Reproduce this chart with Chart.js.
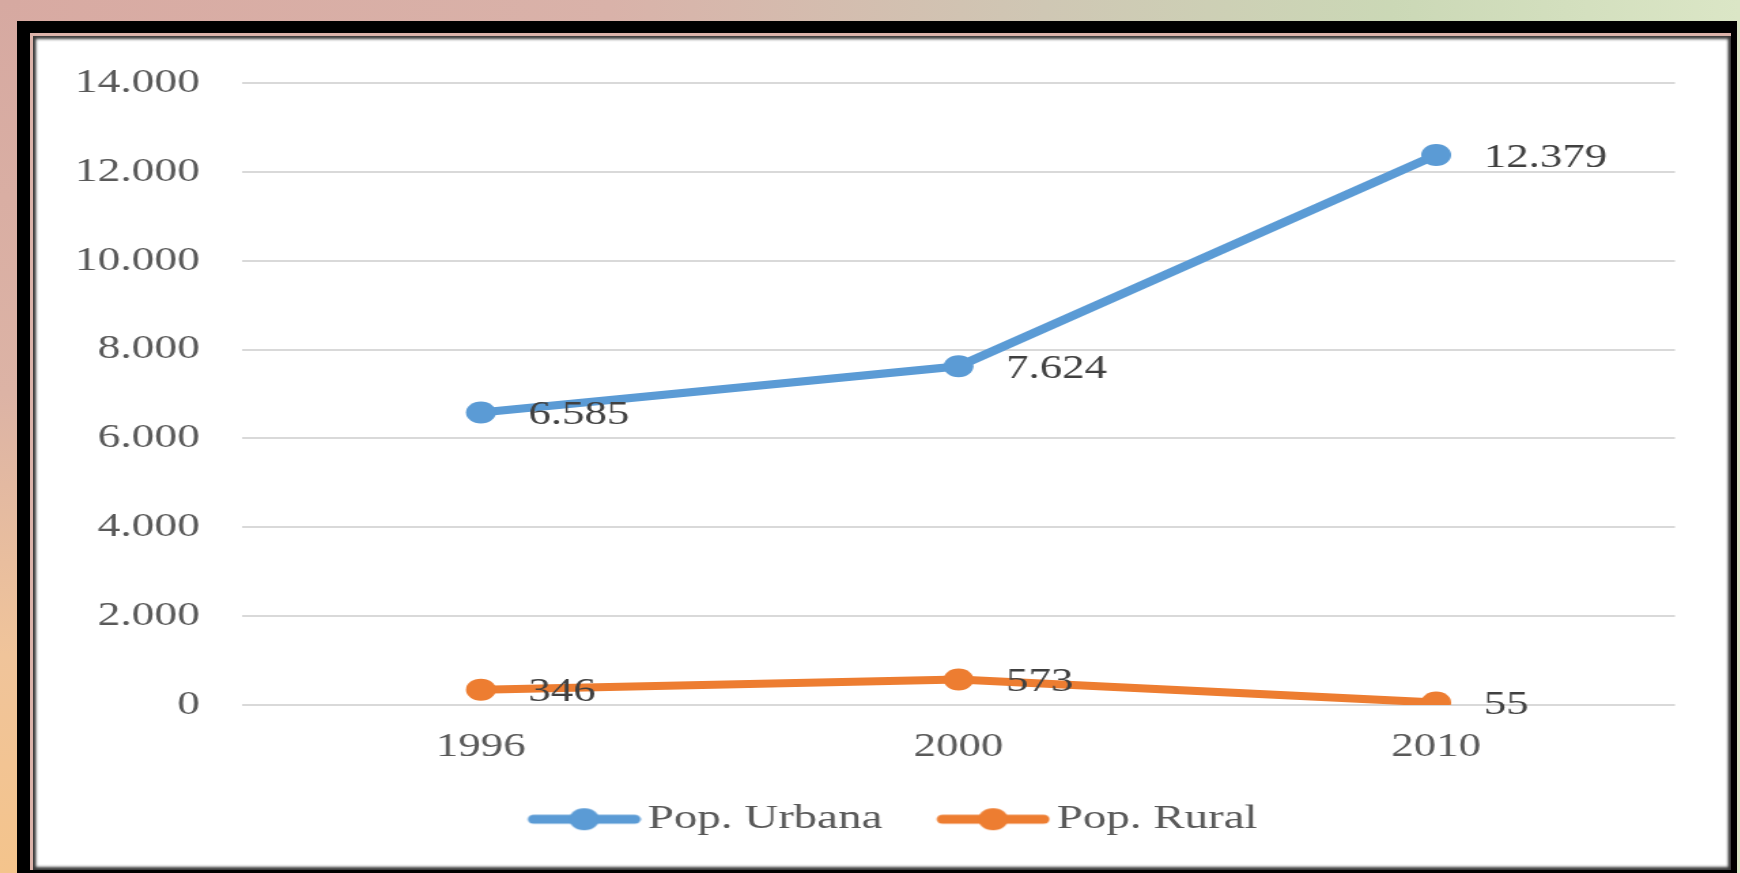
<!DOCTYPE html>
<html>
<head>
<meta charset="utf-8">
<script src="https://cdn.jsdelivr.net/npm/chart.js@4.4.1/dist/chart.umd.min.js"></script>
<style>
  html, body { margin: 0; padding: 0; }
  body {
    width: 1740px; height: 873px; overflow: hidden; position: relative;
    background: linear-gradient(to right, #d8aaa2 0%, #d9b2a9 35%, #cfc7b4 60%, #cbd8b6 80%, #dbe6c6 100%);
  }
  #leftStrip {
    position: absolute; left: 0; top: 0; width: 20px; height: 873px;
    background: linear-gradient(to bottom, #d6a9a1 0%, #dcb3a5 45%, #f0c49a 75%, #f4c48c 100%);
  }
  #frame {
    position: absolute; left: 17px; top: 21px; width: 1720px; height: 900px;
    background: #000;
  }
  #panel {
    position: absolute; left: 30px; top: 33px; width: 1698px; height: 834px;
    background: #fff;
    border-top: 3px solid #dcb3aa; border-left: 3px solid #dcb3aa;
    box-shadow: inset 3px 3px 3px #3a3a3a, inset -3px -3px 3px #3a3a3a;
  }
  #wrap {
    position: absolute; left: 0; top: 0; width: 1279.4px; height: 873px;
    transform: scaleX(1.36); transform-origin: 0 0;
  }
</style>
</head>
<body>
<div id="leftStrip"></div>
<div id="frame"></div>
<div id="panel"></div>
<div id="wrap"><canvas id="popChart"></canvas></div>
<script>
// data
const years = ['1996', '2000', '2010'];
const popUrbana = [6585, 7624, 12379];
const popRural = [346, 573, 55];
const yMax = 14000;
const yStep = 2000;

const blue = '#5B9BD5';
const orange = '#ED7D31';
const serif = "'Liberation Serif', 'Times New Roman', serif";

// 12379 -> 12.379
function fmt(v) {
  return String(v).replace(/\B(?=(\d{3})+(?!\d))/g, '.');
}

// legend marker: line with a dot in the middle
function legendMark(color) {
  const c = document.createElement('canvas');
  c.width = 109;
  c.height = 24;
  const g = c.getContext('2d');
  g.strokeStyle = color;
  g.lineWidth = 9;
  g.lineCap = 'round';
  g.beginPath();
  g.moveTo(30, 12);
  g.lineTo(104, 12);
  g.stroke();
  g.fillStyle = color;
  g.beginPath();
  g.arc(67, 12, 11, 0, Math.PI * 2);
  g.fill();
  return c;
}
const marks = [legendMark(blue), legendMark(orange)];

// values written right of each point
const valueLabels = {
  id: 'valueLabels',
  afterDatasetsDraw(chart) {
    const ctx = chart.ctx;
    ctx.save();
    ctx.font = '33px ' + serif;
    ctx.fillStyle = '#404040';
    ctx.textAlign = 'left';
    ctx.textBaseline = 'middle';
    chart.data.datasets.forEach((ds, i) => {
      chart.getDatasetMeta(i).data.forEach((pt, j) => {
        ctx.fillText(fmt(ds.data[j]), pt.x + 35, pt.y + 3);
      });
    });
    ctx.restore();
  }
};

new Chart(document.getElementById('popChart'), {
  type: 'line',
  data: {
    labels: years,
    datasets: [{
      label: 'Pop. Urbana',
      data: popUrbana,
      borderColor: blue,
      backgroundColor: blue,
      borderWidth: 8,
      pointRadius: 11,
      pointHoverRadius: 11,
      pointBorderWidth: 0,
      tension: 0
    }, {
      label: 'Pop. Rural',
      data: popRural,
      borderColor: orange,
      backgroundColor: orange,
      borderWidth: 8,
      pointRadius: 11,
      pointHoverRadius: 11,
      pointBorderWidth: 0,
      tension: 0
    }]
  },
  options: {
    responsive: true,
    maintainAspectRatio: false,
    animation: false,
    layout: { padding: { left: 52, right: 31.8, top: 83, bottom: 26.5 } },
    plugins: {
      tooltip: { enabled: false },
      legend: {
        position: 'bottom',
        labels: {
          usePointStyle: true,
          pointStyleWidth: 84,
          padding: 27,
          color: '#595959',
          font: { family: serif, size: 34.5 },
          generateLabels(chart) {
            const items = Chart.defaults.plugins.legend.labels.generateLabels(chart);
            items.forEach((it, i) => { it.pointStyle = marks[i]; });
            return items;
          }
        }
      }
    },
    scales: {
      x: {
        offset: true,
        grid: { display: false },
        border: { display: false },
        ticks: { color: '#595959', font: { family: serif, size: 33 }, padding: 15 },
        afterFit(scale) { scale.height = 70; }
      },
      y: {
        min: 0,
        max: yMax,
        border: { display: false },
        grid: { color: '#D9D9D9', lineWidth: 2, drawTicks: false },
        ticks: {
          stepSize: yStep,
          padding: 31,
          color: '#595959',
          font: { family: serif, size: 33.5 },
          callback: (v) => fmt(v)
        },
        afterFit(scale) { scale.width = 126; }
      },
      // empty right axis, only keeps space on the right
      yRight: {
        position: 'right',
        min: 0,
        max: yMax,
        grid: { display: false },
        border: { display: false },
        ticks: { display: false },
        afterFit(scale) { scale.width = 16; }
      }
    }
  },
  plugins: [valueLabels]
});
</script>
</body>
</html>
